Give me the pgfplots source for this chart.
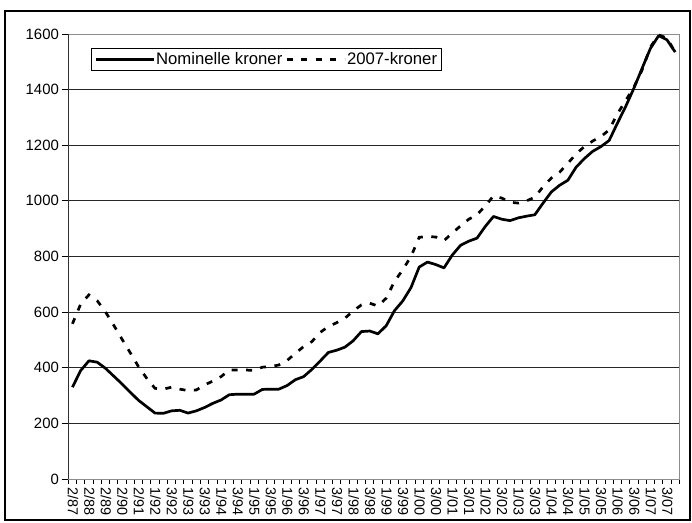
\documentclass[border=0pt]{standalone}
\usepackage{fontspec}
\setmainfont{Liberation Sans}
\usepackage{pgfplots}
\usepackage{pgfplotstable}
\pgfplotsset{compat=1.18}
\pgfplotstableread{
x y
0 330
1 390
2 425
3 420
4 398
5 370
6 342
7 312
8 283
9 260
10 237
11 236
12 245
13 247
14 237
15 245
16 257
17 272
18 284
19 303
20 305
21 305
22 305
23 322
24 323
25 323
26 336
27 357
28 368
29 394
30 424
31 455
32 463
33 474
34 497
35 530
36 532
37 522
38 551
39 605
40 640
41 688
42 762
43 780
44 771
45 759
46 805
47 840
48 855
49 866
50 908
51 944
52 934
53 929
54 939
55 945
56 950
57 992
58 1032
59 1056
60 1074
61 1121
62 1152
63 1178
64 1195
65 1217
66 1279
67 1339
68 1405
69 1477
70 1548
71 1594
72 1579
73 1535
}\nominal
\pgfplotstableread{
x y
0 558
1 629
2 662
3 641
4 601
5 553
6 503
7 454
8 404
9 362
10 326
11 323
12 330
13 323
14 318
15 320
16 338
17 352
18 368
19 392
20 392
21 392
22 390
23 402
24 404
25 410
26 426
27 452
28 476
29 494
30 527
31 548
32 562
33 578
34 604
35 626
36 632
37 622
38 650
39 710
40 752
41 800
42 869
43 872
44 870
45 857
46 884
47 910
48 934
49 950
50 982
51 1018
52 1010
53 995
54 992
55 1000
56 1013
57 1051
58 1082
59 1103
60 1135
61 1169
62 1195
63 1215
64 1231
65 1255
66 1313
67 1360
68 1409
69 1471
70 1553
71 1597
72 1585
73 1535
}\real
\begin{document}
\begin{tikzpicture}[x=1bp,y=1bp]
\path (0,0) rectangle (692,523);
\draw[black, line width=2bp] (4.5,2.5) -- (689.5,2.5) -- (689.5,511.5) -- (4.5,511.5) -- cycle;
\begin{axis}[
  at={(68.3bp,44bp)}, anchor=south west,
  scale only axis, width=611bp, height=445bp,
  xmin=-0.5, xmax=73.5, ymin=0, ymax=1600,
  axis line style={draw=black!45, line width=0.8bp},
  ytick={0,200,...,1600},
  xtick={0,2,...,72},
  xticklabels={2/87,2/88,2/89,2/90,2/91,1/92,3/92,1/93,3/93,1/94,3/94,1/95,3/95,1/96,3/96,1/97,3/97,1/98,3/98,1/99,3/99,1/00,3/00,1/01,3/01,1/02,3/02,1/03,3/03,1/04,3/04,1/05,3/05,1/06,3/06,1/07,3/07},
  minor xtick={-0.5,0.5,...,73.5},
  xtick pos=bottom, ytick pos=left,
  tick align=outside,
  minor tick length=5bp,
  xtick style={/pgfplots/major tick length=0pt, black, line width=0.8bp},
  ytick style={/pgfplots/major tick length=6.7bp, black, line width=0.8bp},
  minor tick style={black, line width=0.8bp},
  ymajorgrids, grid style={black!85, line width=0.8bp},
  /pgf/number format/assume math mode=true,
  /pgf/number format/1000 sep={},
  yticklabel style={font=\fontsize{14.9bp}{16bp}\selectfont, inner sep=0pt, anchor=east, xshift=-5bp},
  xticklabel style={font=\fontsize{14.4bp}{15bp}\selectfont, inner sep=0pt, yshift=-4bp, xshift=0.5bp, rotate=-90, anchor=west},
  legend style={at={(0.0372,0.9685)}, anchor=north west, draw=black, line width=0.8bp, fill=white,
    inner xsep=3bp, inner ysep=3bp, font=\fontsize{16.7bp}{18bp}\selectfont,
    nodes={inner sep=1bp}, /tikz/every even column/.append style={column sep=2bp}},
  legend columns=2,
  legend image code/.code={\draw[#1] (0bp,0bp) -- (58bp,0bp);},
]
\addplot[black, line width=2.7bp, line join=round] table {\nominal};
\addlegendentry{Nominelle kroner}
\addplot[black, line width=2.7bp, dash pattern=on 6bp off 8.5bp] table {\real};
\addlegendentry{2007-kroner}
\draw[black, line width=0.9bp] (rel axis cs:0,0) -- (rel axis cs:0,1);
\draw[black, line width=0.9bp] (rel axis cs:0,0) -- (rel axis cs:1,0);
\end{axis}
\end{tikzpicture}
\end{document}
